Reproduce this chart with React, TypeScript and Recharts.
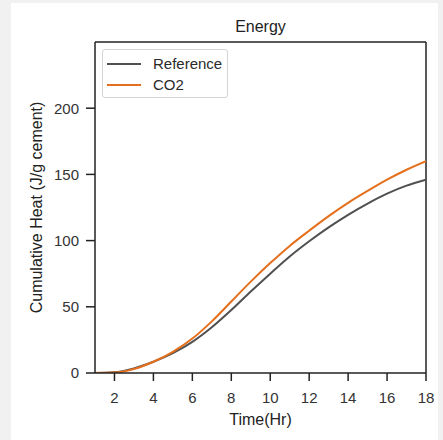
import {
  LineChart,
  Line,
  XAxis,
  YAxis,
  ReferenceLine,
} from "recharts";

const hours = [1, 2, 3, 4, 5, 6, 7, 8, 9, 10, 11, 12, 13, 14, 15, 16, 17, 18];
const referenceHeat = [0, 0.5, 3.5, 8.5, 15, 23.5, 34.5, 47.5, 61.5, 75, 88, 99.5, 110, 119.5, 128, 135.5, 141.5, 146];
const co2Heat = [0, 0.3, 3, 8.5, 16, 26, 39, 54, 69, 83, 96, 107.5, 118.5, 128.5, 137.5, 146, 153.5, 160];
const xTicks = [2, 4, 6, 8, 10, 12, 14, 16, 18];
const yTicks = [0, 50, 100, 150, 200];

const seriesNames = ["Reference", "CO2"];
const seriesColors = ["#505050", "#e46f1c"];

const rows = hours.map((h, i) => ({
  hour: h,
  reference: referenceHeat[i],
  co2: co2Heat[i],
}));

const FONT = '"Liberation Sans", Arial, sans-serif';
const AXIS = "#222";

function LegendBox() {
  return (
    <div
      style={{
        position: "absolute",
        left: 91,
        top: 46,
        width: 126,
        height: 49,
        border: "1px solid #d4d4d4",
        borderRadius: 3,
        background: "#fff",
        boxSizing: "border-box",
        fontFamily: FONT,
        fontSize: 15,
        color: "#2a2a2a",
      }}
    >
      {seriesNames.map((name, i) => (
        <div key={name} style={{ display: "flex", alignItems: "center", height: 21, marginTop: i === 0 ? 3 : 0 }}>
          <div style={{ width: 34, height: 2, background: seriesColors[i], marginLeft: 4, marginRight: 12 }} />
          <span>{name}</span>
        </div>
      ))}
    </div>
  );
}

export default function App() {
  return (
    <div style={{ position: "fixed", left: 0, top: 0, width: 443, height: 440, background: "#f1f1f1" }}>
      <div style={{ position: "absolute", left: 11, top: 3, width: 427, height: 437, background: "#fff" }}>
        <div
          style={{
            position: "absolute",
            left: 84,
            width: 331,
            top: 15,
            textAlign: "center",
            fontFamily: FONT,
            fontSize: 16,
            color: "#222",
          }}
        >
          Energy
        </div>
        <LineChart
          width={427}
          height={437}
          data={rows}
          margin={{ top: 39, right: 12, left: 4, bottom: 12 }}
          style={{ fontFamily: FONT }}
        >
          <XAxis
            dataKey="hour"
            type="number"
            domain={[1, 18]}
            ticks={xTicks}
            allowDataOverflow
            height={55}
            stroke={AXIS}
            strokeWidth={1.5}
            tickSize={8}
            tickMargin={11}
            tick={{ fill: "#333", fontSize: 15 }}
            label={{ value: "Time(Hr)", position: "insideBottom", offset: 3, fill: "#222", fontSize: 16 }}
          />
          <YAxis
            type="number"
            domain={[0, 250]}
            ticks={yTicks}
            allowDataOverflow
            width={80}
            stroke={AXIS}
            strokeWidth={1.5}
            tickSize={9}
            tickMargin={7}
            tick={{ fill: "#333", fontSize: 15 }}
            label={{
              value: "Cumulative Heat (J/g cement)",
              angle: -90,
              position: "insideLeft",
              offset: 21,
              fill: "#222",
              fontSize: 16,
              style: { textAnchor: "middle" },
            }}
          />
          <ReferenceLine y={250} stroke={AXIS} strokeWidth={1.5} />
          <ReferenceLine x={18} stroke={AXIS} strokeWidth={1.5} />
          <Line
            dataKey="reference"
            name="Reference"
            type="monotone"
            stroke={seriesColors[0]}
            strokeWidth={2}
            dot={false}
            isAnimationActive={false}
          />
          <Line
            dataKey="co2"
            name="CO2"
            type="monotone"
            stroke={seriesColors[1]}
            strokeWidth={2}
            dot={false}
            isAnimationActive={false}
          />
        </LineChart>
        <LegendBox />
      </div>
    </div>
  );
}
